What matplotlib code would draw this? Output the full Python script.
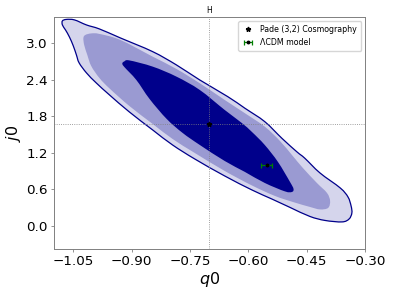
import numpy as np
import matplotlib
matplotlib.use("Agg")
import matplotlib.pyplot as plt
from matplotlib.path import Path
from matplotlib.patches import PathPatch

# contour outlines (q0, j0)
outer_q = [-1.078, -1.068, -1.047, -1.016, -0.983, -0.929, -0.846, -0.785, -0.725, -0.653,
           -0.609, -0.558, -0.514, -0.475, -0.455, -0.416, -0.364, -0.344, -0.336, -0.334,
           -0.341, -0.359, -0.403, -0.442, -0.493, -0.540, -0.591, -0.661, -0.738, -0.795,
           -0.846, -0.906, -0.957, -0.991, -1.016, -1.035, -1.042, -1.050, -1.060, -1.070,
           -1.078]
outer_j = [3.366, 3.391, 3.383, 3.300, 3.235, 3.087, 2.862, 2.644, 2.397, 2.123,
           1.933, 1.713, 1.440, 1.215, 1.112, 0.870, 0.624, 0.476, 0.328, 0.213,
           0.115, 0.066, 0.090, 0.156, 0.304, 0.443, 0.591, 0.821, 1.100, 1.330,
           1.576, 1.872, 2.151, 2.348, 2.512, 2.677, 2.808, 2.956, 3.103, 3.218,
           3.300]

mid_q = [-1.024, -1.019, -1.004, -0.983, -0.929, -0.846, -0.785, -0.725, -0.661, -0.609,
         -0.558, -0.519, -0.486, -0.460, -0.424, -0.398, -0.390, -0.395, -0.416, -0.442,
         -0.486, -0.532, -0.591, -0.661, -0.738, -0.795, -0.846, -0.906,
         -0.957, -0.983, -1.004, -1.014, -1.022]
mid_j = [3.087, 3.136, 3.161, 3.153, 3.054, 2.780, 2.578, 2.343, 2.069, 1.851,
         1.631, 1.396, 1.149, 0.952, 0.706, 0.542, 0.411, 0.296, 0.271, 0.312,
         0.394, 0.493, 0.665, 0.903, 1.199, 1.429, 1.675, 1.970,
         2.258, 2.430, 2.627, 2.808, 2.972]

inner_q = [-0.924, -0.919, -0.906, -0.846, -0.785, -0.725, -0.661, -0.617, -0.591, -0.558,
           -0.524, -0.493, -0.484, -0.488, -0.506, -0.558, -0.609, -0.661, -0.725, -0.769,
           -0.810, -0.854, -0.888, -0.919]
inner_j = [2.668, 2.701, 2.718, 2.616, 2.452, 2.233, 1.905, 1.691, 1.544, 1.330,
           1.051, 0.722, 0.608, 0.558, 0.567, 0.706, 0.887, 1.067, 1.330, 1.527,
           1.757, 2.085, 2.397, 2.611]

best_q, best_j = -0.70, 1.68
lcdm_q, lcdm_j, lcdm_qerr = -0.553, 1.0, 0.015

xticks = [-1.05, -0.90, -0.75, -0.60, -0.45, -0.30]
yticks = [0.0, 0.6, 1.2, 1.8, 2.4, 3.0]


def smooth_closed(qs, js):
    # closed Catmull-Rom outline handed to matplotlib as cubic Bezier segments
    pts = np.column_stack([qs, js])
    n = len(pts)
    verts = [pts[0]]
    codes = [Path.MOVETO]
    for i in range(n):
        p0, p1 = pts[i - 1], pts[i]
        p2, p3 = pts[(i + 1) % n], pts[(i + 2) % n]
        verts += [p1 + (p2 - p0) / 6, p2 - (p3 - p1) / 6, p2]
        codes += [Path.CURVE4] * 3
    verts.append(pts[0])
    codes.append(Path.CLOSEPOLY)
    return Path(verts, codes)


fig = plt.figure(figsize=(3.93, 2.99), dpi=100)
ax = fig.add_axes([0.137, 0.167, 0.792, 0.776])

outer = smooth_closed(outer_q, outer_j)
ax.add_patch(PathPatch(outer, facecolor="#d5d5ec", edgecolor="none", zorder=1))
ax.add_patch(PathPatch(smooth_closed(mid_q, mid_j), facecolor="#9a9ad2",
                       edgecolor="none", zorder=2))
ax.add_patch(PathPatch(smooth_closed(inner_q, inner_j), facecolor="#00008b",
                       edgecolor="none", zorder=3))
ax.add_patch(PathPatch(outer, facecolor="none", edgecolor="#00008b", lw=0.9, zorder=4))

ax.axvline(best_q, color="gray", ls=":", lw=0.6, zorder=5)
ax.axhline(best_j, color="gray", ls=":", lw=0.6, zorder=5)
ax.plot([best_q], [best_j], ls="none", marker="*", color="k", ms=3.5, zorder=6,
        label="Pade (3,2) Cosmography")
ax.errorbar([lcdm_q], [lcdm_j], xerr=[lcdm_qerr], fmt="o", color="green", mfc="k", mec="k",
            ms=1.8, capsize=1.8, elinewidth=0.9, capthick=0.9, zorder=6, label="ΛCDM model")

ax.set_xlim(-1.10, -0.30)
ax.set_ylim(-0.38, 3.43)
ax.set_xticks(xticks)
ax.set_yticks(yticks)
ax.set_xticklabels([f"{t:.2f}".replace("-", "\u2212") for t in xticks])
ax.set_yticklabels([f"{t:.1f}" for t in yticks])
ax.tick_params(labelsize=9.7, color="gray", length=2.5, width=0.6, pad=2)
for s in ax.spines.values():
    s.set_color("gray")
    s.set_linewidth(0.7)

ax.set_xlabel("$q0$", fontsize=11.5, labelpad=1)
ax.set_ylabel("$j0$", fontsize=11.5, labelpad=2)
ax.set_title("H", fontsize=5.5, pad=3)
ax.legend(loc="upper right", fontsize=5.7, frameon=True, borderpad=0.5,
          handlelength=1.5, labelspacing=0.5)

fig.savefig("out.png", dpi=100)
